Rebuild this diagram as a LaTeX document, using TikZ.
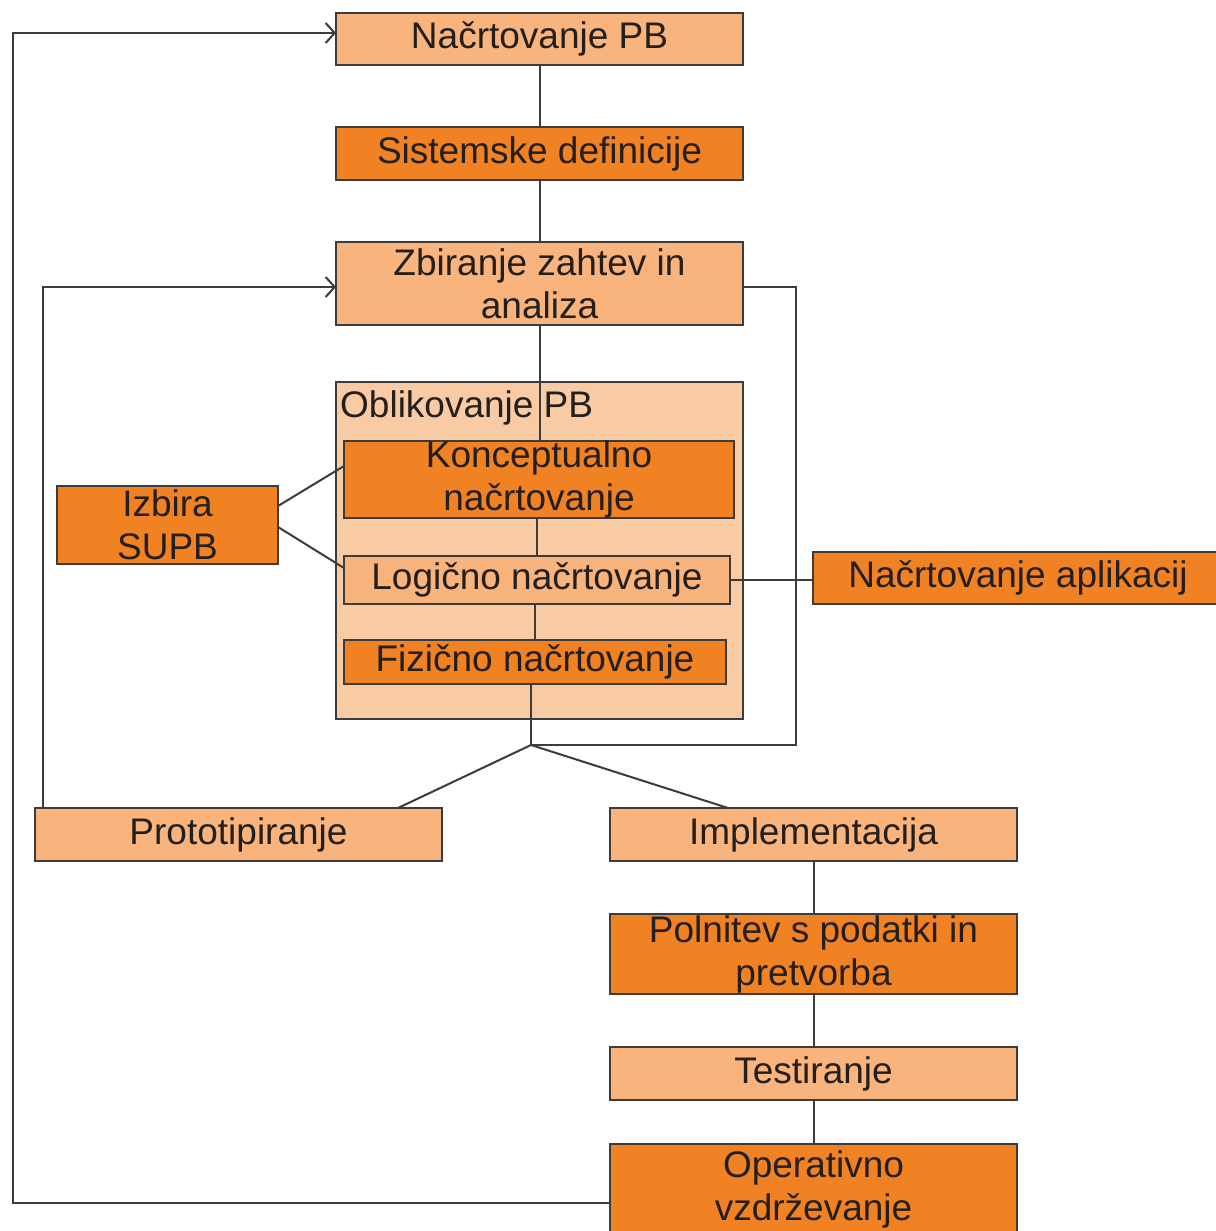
\documentclass[tikz,border=0pt]{standalone}
\usepackage{fontspec}
\setmainfont{Liberation Sans}
\usetikzlibrary{arrows.meta,calc}
\definecolor{lightor}{HTML}{F8B47C}
\definecolor{darkor}{HTML}{F08224}
\definecolor{paleor}{HTML}{F9CBA5}
\definecolor{ink}{HTML}{231F1C}
\definecolor{edge}{HTML}{3C3C3C}
\begin{document}
\begin{tikzpicture}[x=1pt,y=-1pt,
  box/.style={draw=edge, line width=2pt, inner sep=0pt, outer sep=0pt,
    anchor=north west, align=center, text=ink,
    font=\fontsize{37}{43}\selectfont},
  pale/.style={box, fill=lightor},
  deep/.style={box, fill=darkor},
  link/.style={draw=edge, line width=2pt},
  back/.style={link, -{Straight Barb[length=9pt,width=20pt,line width=2pt]}}]
\useasboundingbox (0,0) rectangle (1215,1231);
\fill[white] (0,0) rectangle (1215,1231);

% main column
\node[pale, minimum width=407pt, minimum height=52pt] (npb) at (336,13) {Načrtovanje PB};
\node[deep, minimum width=407pt, minimum height=53pt] (sis) at (336,127) {Sistemske definicije};
\node[pale, minimum width=407pt, minimum height=83pt] (zbi) at (336,242) {Zbiranje zahtev in\\analiza};
\draw[link] (npb.south) -- (sis.north);
\draw[link] (sis.south) -- (zbi.north);

% design group
\node[box, fill=paleor, minimum width=407pt, minimum height=337pt] (obl) at (336,382) {};
\draw[link] (zbi.south) -- ++(0,116) coordinate (kt);
\node[anchor=base west, inner sep=0pt, text=ink, font=\fontsize{37}{43}\selectfont] (oblt) at (340,417) {Oblikovanje PB};
\node[deep, minimum width=390pt, minimum height=75pt] (kon) at (344,441) {Konceptualno\\načrtovanje};
\node[pale, minimum width=386pt, minimum height=48pt] (log) at (344,556) {Logično načrtovanje};
\node[deep, minimum width=382pt, minimum height=44pt] (fiz) at (344,640) {Fizično načrtovanje};
\draw[link] (log.north) -- (log.north |- kon.south);
\draw[link] (fiz.north) -- (fiz.north |- log.south);

% side boxes
\node[deep, minimum width=221pt, minimum height=78pt] (izb) at (57,486) {Izbira\\SUPB};
\node[deep, minimum width=410pt, minimum height=52pt] (app) at (813,552) {Načrtovanje aplikacij};
\draw[link] ($(izb.north east)+(0,20)$) -- ($(kon.north west)+(0,25)$);
\draw[link] ($(izb.north east)+(0,41)$) -- ($(log.north west)+(0,12)$);
\draw[link] (log.east) -- (log.east -| app.west);

% branch point
\coordinate (jn) at (531,745);
\draw[link] (jn |- fiz.south) -- (jn);
\draw[link] ($(zbi.north east)+(0,45)$) -- ++(53,0) |- (jn);

% lower boxes
\node[pale, minimum width=407pt, minimum height=53pt] (pro) at (35,808) {Prototipiranje};
\node[pale, minimum width=407pt, minimum height=53pt] (imp) at (610,808) {Implementacija};
\node[deep, minimum width=407pt, minimum height=80pt] (pol) at (610,914) {Polnitev s podatki in\\pretvorba};
\node[pale, minimum width=407pt, minimum height=53pt] (tes) at (610,1047) {Testiranje};
\node[deep, minimum width=407pt, minimum height=90pt] (ope) at (610,1144) {Operativno\\vzdrževanje};

\draw[link] (jn) -- ($(pro.north east)+(-44,0)$);
\draw[link] (jn) -- ($(imp.north west)+(118,0)$);
\draw[link] (imp.south) -- (pol.north);
\draw[link] (pol.south) -- (tes.north);
\draw[link] (tes.south) -- (ope.north);

% feedback loops
\draw[back] ($(pro.north west)+(8,0)$) |- ($(zbi.north west)+(0,45)$);
\draw[back] ($(ope.north west)+(0,59)$) -- ++(-597,0) |- ($(npb.north west)+(0,20)$);
\end{tikzpicture}
\end{document}
